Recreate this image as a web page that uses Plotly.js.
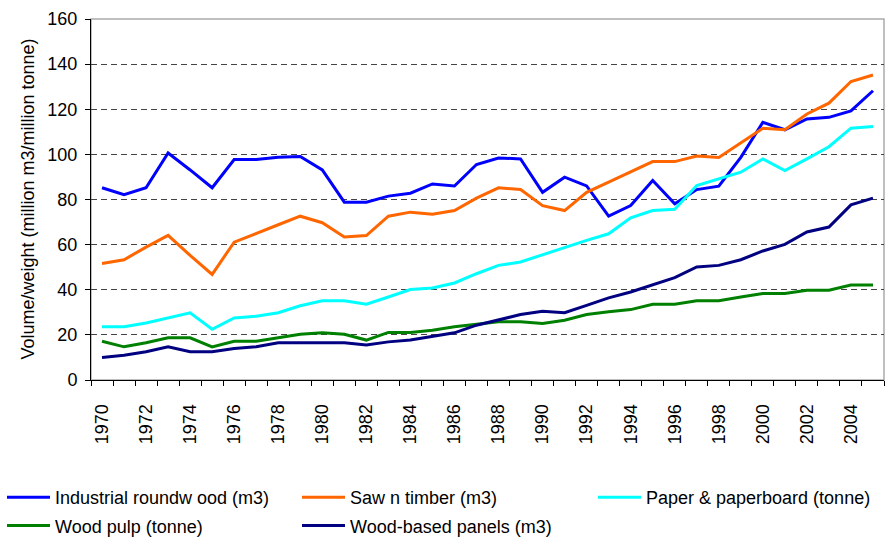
<!DOCTYPE html>
<html>
<head>
<meta charset="utf-8">
<script src="https://cdn.plot.ly/plotly-3.0.1.min.js"></script>
<style>html,body{margin:0;padding:0;background:#fff;}#chart{width:886px;height:544px;}</style>
</head>
<body>
<div id="chart"></div>
<script>
const years = [1970,1971,1972,1973,1974,1975,1976,1977,1978,1979,1980,1981,1982,1983,1984,1985,1986,1987,1988,1989,1990,1991,1992,1993,1994,1995,1996,1997,1998,1999,2000,2001,2002,2003,2004,2005];
const tickYears = [1970,1972,1974,1976,1978,1980,1982,1984,1986,1988,1990,1992,1994,1996,1998,2000,2002,2004];

const industrialRoundwood = [85.2,82.1,85.2,100.6,93.1,85.2,97.7,97.7,98.7,99.1,93.1,78.8,78.8,81.5,82.8,86.9,86.0,95.5,98.4,98.0,83.2,89.9,86.0,72.6,77.3,88.4,78.1,84.4,85.9,98.7,114.2,110.9,115.7,116.4,119.3,128.2];
const sawnTimber = [51.6,53.3,58.9,64.1,55.2,46.8,61.1,65.1,68.8,72.6,69.7,63.4,64.0,72.6,74.4,73.5,75.1,80.6,85.2,84.4,77.3,75.1,83.2,87.7,92.1,96.8,96.8,99.3,98.6,105.3,111.6,110.9,117.9,122.7,132.3,135.2];
const paper = [23.6,23.6,25.3,27.5,29.8,22.5,27.5,28.3,29.8,32.9,35.1,35.1,33.6,36.8,40.1,40.8,43.0,47.1,50.8,52.3,55.5,58.9,61.9,64.8,71.9,75.1,75.7,86.2,89.1,92.1,98.0,92.8,98.0,103.4,111.6,112.4];
const woodPulp = [17.2,14.7,16.5,18.7,18.7,14.7,17.2,17.2,18.7,20.3,20.9,20.3,17.7,21.1,21.1,22.1,23.6,24.6,25.8,25.8,25.0,26.5,29.0,30.2,31.2,33.6,33.6,35.1,35.1,36.8,38.3,38.3,39.8,39.8,42.1,42.1];
const panels = [10.0,11.0,12.5,14.7,12.5,12.5,14.0,14.7,16.5,16.5,16.5,16.5,15.5,16.9,17.7,19.4,20.9,24.3,26.5,29.0,30.5,29.8,33.1,36.4,39.0,42.3,45.4,50.1,50.8,53.3,57.2,60.1,65.6,67.8,77.6,80.6];

const names = ["Industrial roundw ood (m3)","Saw n timber (m3)","Paper & paperboard (tonne)","Wood pulp (tonne)","Wood-based panels (m3)"];
const series = [industrialRoundwood, sawnTimber, paper, woodPulp, panels];
const colors = ["#0000FF","#FF6600","#00FFFF","#008000","#000080"];
const legendCol = ["legend","legend2","legend3","legend","legend2"];
const yTitle = 'Volume/weight (million m3/million tonne)';

const traces = series.map((s,i)=>({
  x: years, y: s, type: 'scatter', mode: 'lines', name: names[i],
  line: {color: colors[i], width: 3}, legend: legendCol[i], legendgroup: 'g' + i
}));

const ff = 'Liberation Sans, Arial, sans-serif';
const font = {family: ff, size: 18, color: '#000'};
const lfont = {family: ff, size: 18, color: '#000'};

const legendBase = {orientation: 'v', xref: 'container', yref: 'container', yanchor: 'top', xanchor: 'left',
  font: lfont, itemwidth: 43, tracegroupgap: 2, bgcolor: 'rgba(0,0,0,0)', borderwidth: 0};
const legendTop = (544 - 479) / 544;

const layout = {
  width: 886, height: 544,
  margin: {l: 91, r: 2, t: 19, b: 164, autoexpand: false},
  paper_bgcolor: '#fff', plot_bgcolor: '#fff',
  font: font,
  showlegend: true,
  legend: Object.assign({}, legendBase, {x: 2 / 886, y: legendTop}),
  legend2: Object.assign({}, legendBase, {x: 297 / 886, y: legendTop}),
  legend3: Object.assign({}, legendBase, {x: 593 / 886, y: legendTop}),
  xaxis: {
    range: [1969.5, 2005.5], tickmode: 'array', tickvals: tickYears, ticktext: tickYears.map(String),
    tickangle: -90, ticks: '', showgrid: false, zeroline: false, ticklabelstandoff: 16,
    showline: true, linecolor: '#000', linewidth: 1,
    minor: {tick0: 1969.5, dtick: 1, ticks: 'outside', ticklen: 5, tickcolor: '#000', showgrid: false},
    tickfont: font
  },
  yaxis: {
    range: [0, 160], dtick: 20, ticks: 'outside', ticklen: 5, tickcolor: '#000',
    showline: true, linecolor: '#000', linewidth: 1, zeroline: false, ticklabelstandoff: 4,
    showgrid: true, gridcolor: '#444', griddash: '6px,4px', gridwidth: 1,
    tickfont: font
  },
  annotations: [{text: yTitle, xref: 'paper', yref: 'paper', x: (27 - 91) / 794, y: 0.5,
    xanchor: 'center', yanchor: 'middle', textangle: -90, showarrow: false, font: font}],
  shapes: [{type: 'rect', xref: 'paper', yref: 'paper', x0: 0, x1: 1, y0: 0, y1: 1,
    line: {color: '#aaa', width: 1.5}, layer: 'below'}]
};

Plotly.newPlot('chart', traces, layout, {displayModeBar: false, staticPlot: true});
</script>
</body>
</html>
